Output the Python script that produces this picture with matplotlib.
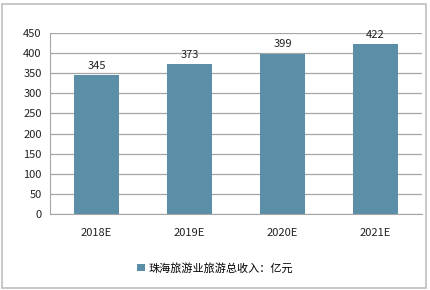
import matplotlib
matplotlib.use("Agg")
import matplotlib.pyplot as plt
from matplotlib.patches import Rectangle

categories = ["2018E", "2019E", "2020E", "2021E"]
values = [345, 373, 399, 422]
series_name = "珠海旅游业旅游总收入：亿元"
yticks = [0, 50, 100, 150, 200, 250, 300, 350, 400, 450]

plt.rcParams['font.family'] = ['Noto Sans CJK SC', 'DejaVu Sans']

fig = plt.figure(figsize=(4.3, 2.9), dpi=100)
W, H = 430, 290
ax = fig.add_axes([50 / W, 1 - 214 / H, (422 - 50) / W, (214 - 33) / H])

color = "#5B8FA7"
x = range(len(categories))
bars = ax.bar(x, values, width=0.49, color=color, label=series_name, zorder=3)
for xi, v in zip(x, values):
    ax.text(xi, v + 10, str(v), ha="center", va="bottom", fontsize=8, color="#222222", zorder=4)

ax.set_xlim(-0.5, len(categories) - 0.5)
ax.set_ylim(0, 450)
ax.set_yticks(yticks)
ax.set_xticks(list(x))
ax.set_xticklabels(categories)
ax.tick_params(axis="both", length=0, labelsize=8, colors="#222222")
ax.tick_params(axis="x", pad=10)
ax.tick_params(axis="y", pad=6)
ax.yaxis.grid(True, color="#A6A6A6", linewidth=0.9, zorder=0)
for s in ["top", "right"]:
    ax.spines[s].set_visible(False)
ax.spines["left"].set_color("#A6A6A6")
ax.spines["bottom"].set_color("#A6A6A6")

leg = fig.legend(handles=[bars], labels=[series_name], loc="center",
                 bbox_to_anchor=(215 / W, 1 - 268 / H), frameon=False,
                 fontsize=8, handlelength=0.7, handleheight=0.7, handletextpad=0.3)

fig.patches.append(Rectangle((2 / W, 2 / H), 424 / W, 284 / H, transform=fig.transFigure,
                             fill=False, edgecolor="#BFBFBF", linewidth=1.2))

fig.savefig("out.png", dpi=100)
